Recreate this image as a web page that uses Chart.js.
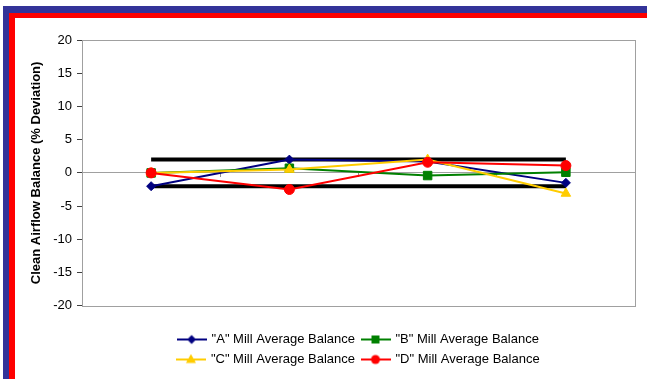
<!DOCTYPE html>
<html>
<head>
<meta charset="utf-8">
<script src="https://cdn.jsdelivr.net/npm/chart.js@4/dist/chart.umd.min.js"></script>
<style>
  html, body { margin: 0; padding: 0; background: #fff; }
  body { width: 647px; height: 379px; position: relative; overflow: hidden; }
  #shadow { position: absolute; left: 3px; top: 6px; width: 644px; height: 373px; background: #333399; }
  #frame { position: absolute; left: 9px; top: 13px; width: 636px; height: 363px; background: #fff;
           border-top: 5px solid #ff0000; border-left: 6px solid #ff0000; border-right: 2px solid #ff0000; border-bottom: 3px solid #ff0000; box-sizing: content-box; }
  #wrap { position: absolute; left: 15px; top: 18px; width: 630px; height: 358px; }
</style>
</head>
<body>
<div id="shadow"></div>
<div id="frame"></div>
<div id="wrap"><canvas id="chart" width="630" height="358"></canvas></div>
<script>
// Survey points along the duct
const categories = ['1', '2', '3', '4'];

// Average clean airflow balance per mill (% deviation)
const millA = [-2.0, 2.0, 1.7, -1.5];
const millB = [0.0, 0.7, -0.4, 0.1];
const millC = [0.0, 0.5, 2.0, -3.1];
const millD = [0.0, -2.5, 1.6, 1.1];

// Tolerance band (+/- 2 %)
const upperLimit = [2, 2, 2, 2];
const lowerLimit = [-2, -2, -2, -2];

const yTicks = [-20, -15, -10, -5, 0, 5, 10, 15, 20];

// Small line-plus-marker icon for the legend
function legendIcon(color, style) {
  const c = document.createElement('canvas');
  c.width = 30; c.height = 12;
  const g = c.getContext('2d');
  g.strokeStyle = color; g.lineWidth = 2;
  g.beginPath(); g.moveTo(0, 6); g.lineTo(30, 6); g.stroke();
  g.fillStyle = color;
  g.beginPath();
  if (style === 'rectRot') { g.moveTo(15, 1.5); g.lineTo(19.5, 6); g.lineTo(15, 10.5); g.lineTo(10.5, 6); g.closePath(); }
  else if (style === 'rect') { g.rect(11, 2, 8, 8); }
  else if (style === 'triangle') { g.moveTo(15, 0.5); g.lineTo(20, 9.5); g.lineTo(10, 9.5); g.closePath(); }
  else { g.arc(15, 6, 4.5, 0, Math.PI * 2); }
  g.fill();
  return c;
}

function series(label, data, color, style, radius, order) {
  return {
    label, data, order,
    borderColor: color, backgroundColor: color,
    borderWidth: 2, pointStyle: style, pointRadius: radius, pointHoverRadius: radius,
    pointBorderWidth: 1, pointBorderColor: color, pointBackgroundColor: color,
    tension: 0, icon: legendIcon(color, style)
  };
}

function limitLine(data) {
  return { label: '', data, isGuide: true, order: 10, borderColor: '#000', borderWidth: 4,
           pointRadius: 0, pointHoverRadius: 0, fill: false, tension: 0 };
}

// Grey outline of the plot area
const plotFrame = {
  id: 'plotFrame',
  beforeDatasetsDraw(chart) {
    const a = chart.chartArea, ctx = chart.ctx;
    ctx.save();
    ctx.strokeStyle = '#a0a0a0'; ctx.lineWidth = 1;
    ctx.strokeRect(Math.round(a.left) + 0.5, Math.round(a.top) + 0.5, Math.round(a.right - a.left), Math.round(a.bottom - a.top));
    ctx.restore();
  }
};

const font13 = { family: 'Liberation Sans, Arial, sans-serif', size: 13 };

const chart = new Chart(document.getElementById('chart'), {
  type: 'line',
  data: {
    labels: categories,
    datasets: [
      series('"A" Mill Average Balance', millA, '#000080', 'rectRot', 4.5, 4),
      series('"B" Mill Average Balance', millB, '#008000', 'rect', 6, 3),
      series('"C" Mill Average Balance', millC, '#ffcc00', 'triangle', 5.5, 2),
      series('"D" Mill Average Balance', millD, '#ff0000', 'circle', 5, 1),
      limitLine(upperLimit),
      limitLine(lowerLimit)
    ]
  },
  options: {
    responsive: false,
    animation: false,
    layout: { padding: { top: 22, right: 10, bottom: 0, left: 0 } },
    plugins: {
      tooltip: { enabled: false },
      legend: {
        position: 'bottom',
        fullSize: false,
        title: { display: true, text: ' ', padding: { top: 19, bottom: 0 }, font: { size: 1 } },
        labels: {
          usePointStyle: true,
          pointStyleWidth: 27,
          padding: 7,
          color: '#000',
          font: font13,
          generateLabels(chart) {
            return chart.data.datasets
              .map((ds, i) => ({ text: ds.label, datasetIndex: i, pointStyle: ds.icon, hidden: false,
                                 fontColor: '#000', lineWidth: 0, strokeStyle: 'transparent', fillStyle: 'transparent' }))
              .filter(it => !chart.data.datasets[it.datasetIndex].isGuide);
          }
        }
      }
    },
    scales: {
      x: {
        type: 'category',
        position: { y: 0 },
        offset: true,
        ticks: { display: false },
        grid: { offset: true, drawOnChartArea: false, drawTicks: true, tickLength: 4, tickColor: '#909090' },
        border: { display: true, color: '#a0a0a0', width: 1 }
      },
      y: {
        min: -20, max: 20,
        afterBuildTicks(scale) { scale.ticks = yTicks.map(v => ({ value: v })); },
        afterFit(scale) { scale.width = 67; },
        ticks: { color: '#000', padding: 5, font: font13 },
        grid: { drawOnChartArea: false, drawTicks: true, tickLength: 5, tickColor: '#404040' },
        border: { display: true, color: '#404040', width: 1 },
        title: {
          display: true, text: 'Clean Airflow Balance (% Deviation)', color: '#000',
          padding: { top: 14, bottom: 0 },
          font: { family: 'Liberation Sans, Arial, sans-serif', size: 13, weight: 'bold' }
        }
      }
    }
  },
  plugins: [plotFrame]
});

// Two legend entries per row
const legend = chart.legend;
const fitRows = legend._fitRows;
legend._fitRows = function (...args) {
  const full = this.maxWidth;
  this.maxWidth = Math.min(full, 400);
  const h = fitRows.apply(this, args);
  this.maxWidth = full;
  return h;
};
chart.update();
</script>
</body>
</html>
